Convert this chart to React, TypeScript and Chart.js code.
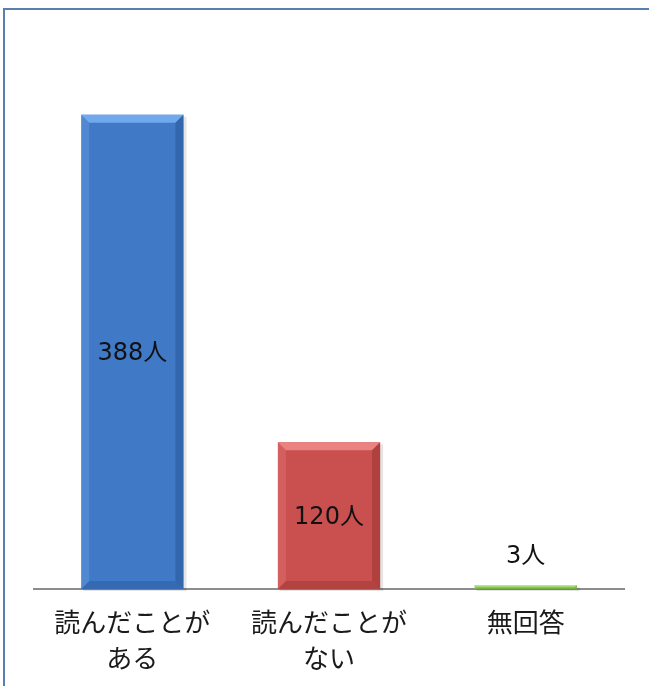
import React, { useEffect, useRef } from "react";
import { Chart, registerables } from "chart.js";

Chart.register(...registerables);

const categories: string[][] = [["読んだことが", "ある"], ["読んだことが", "ない"], ["無回答"]];
const counts: number[] = [388, 120, 3];
const unit = "人";
const barColors = ["#4079c6", "#c9504f", "#8fc95a"];
const lightColors = ["#76aef0", "#ec8786", "#c0ec94"];
const darkColors = ["#2a5a9c", "#9c3533", "#5f9a33"];

const FONT = "'Noto Sans CJK JP', 'Noto Sans', sans-serif";
const LABEL_FONT = "'DejaVu Sans', 'Noto Sans CJK JP', sans-serif";

const bevelPlugin = {
  id: "bevel",
  beforeDatasetsDraw(chart: any) {
    const ctx = chart.ctx;
    const meta = chart.getDatasetMeta(0);
    ctx.save();
    meta.data.forEach((bar: any) => {
      const { x, y, base, width } = bar.getProps(["x", "y", "base", "width"], true);
      const left = x - width / 2;
      ctx.fillStyle = "rgba(0,0,0,0.10)";
      ctx.fillRect(left + 2, y + 2, width + 1, base - y);
    });
    ctx.restore();
  },
  afterDatasetsDraw(chart: any) {
    const ctx = chart.ctx;
    const meta = chart.getDatasetMeta(0);
    ctx.save();
    meta.data.forEach((bar: any, i: number) => {
      const { x, y, base, width } = bar.getProps(["x", "y", "base", "width"], true);
      const left = x - width / 2;
      const right = x + width / 2;
      const top = Math.min(y, base);
      const bottom = Math.max(y, base);
      const h = bottom - top;
      const b = Math.min(8, h / 3);
      ctx.fillStyle = lightColors[i];
      ctx.globalAlpha = 0.9;
      ctx.beginPath();
      ctx.moveTo(left, top);
      ctx.lineTo(right, top);
      ctx.lineTo(right - b, top + b);
      ctx.lineTo(left + b, top + b);
      ctx.closePath();
      ctx.fill();
      ctx.fillStyle = darkColors[i];
      ctx.globalAlpha = 0.6;
      ctx.beginPath();
      ctx.moveTo(right, top);
      ctx.lineTo(right, bottom);
      ctx.lineTo(right - b, bottom - b);
      ctx.lineTo(right - b, top + b);
      ctx.closePath();
      ctx.fill();
      ctx.globalAlpha = 0.5;
      ctx.beginPath();
      ctx.moveTo(left, bottom);
      ctx.lineTo(right, bottom);
      ctx.lineTo(right - b, bottom - b);
      ctx.lineTo(left + b, bottom - b);
      ctx.closePath();
      ctx.fill();
      ctx.globalAlpha = 0.3;
      ctx.fillStyle = lightColors[i];
      ctx.beginPath();
      ctx.moveTo(left, top);
      ctx.lineTo(left + b, top + b);
      ctx.lineTo(left + b, bottom - b);
      ctx.lineTo(left, bottom);
      ctx.closePath();
      ctx.fill();
      ctx.globalAlpha = 1;
    });
    ctx.restore();
  },
};

const labelPlugin = {
  id: "valueLabels",
  afterDraw(chart: any) {
    const ctx = chart.ctx;
    const meta = chart.getDatasetMeta(0);
    const data = chart.data.datasets[0].data as number[];
    ctx.save();
    ctx.font = `24px ${LABEL_FONT}`;
    ctx.fillStyle = "#111";
    ctx.textAlign = "center";
    ctx.textBaseline = "middle";
    meta.data.forEach((bar: any, i: number) => {
      const { x, y, base } = bar.getProps(["x", "y", "base"], true);
      const h = base - y;
      const ty = h > 60 ? (y + base) / 2 + 2 : y - 29;
      ctx.fillText(`${data[i]}${unit}`, x, ty);
    });
    ctx.restore();
  },
};

export default function App() {
  const ref = useRef<HTMLCanvasElement | null>(null);
  useEffect(() => {
    if (!ref.current) return;
    const chart = new Chart(ref.current, {
      type: "bar",
      data: {
        labels: categories,
        datasets: [
          {
            data: counts,
            backgroundColor: barColors,
            borderWidth: 0,
            categoryPercentage: 1,
            barPercentage: 0.52,
          },
        ],
      },
      options: {
        animation: false,
        responsive: false,
        maintainAspectRatio: false,
        layout: { padding: { left: 34, right: 25, top: 100, bottom: 0 } },
        plugins: { legend: { display: false }, tooltip: { enabled: false } },
        scales: {
          x: {
            grid: { display: false, drawTicks: false },
            border: { display: true, color: "#8c8c8c", width: 2 },
            ticks: {
              padding: 16,
              color: "#1a1a1a",
              font: { family: FONT, size: 26, lineHeight: 1.35 },
              maxRotation: 0,
              autoSkip: false,
            },
            afterFit: (scale: any) => {
              scale.height = 97;
            },
          },
          y: { display: false, min: 0, max: 400 },
        },
      },
      plugins: [bevelPlugin, labelPlugin],
    });
    return () => chart.destroy();
  }, []);

  return (
    <div
      style={{
        position: "fixed",
        left: 0,
        top: 0,
        width: 649,
        height: 686,
        overflow: "hidden",
        background: "#fff",
      }}
    >
      <div
        style={{
          position: "absolute",
          left: 3,
          top: 8,
          width: 700,
          height: 720,
          borderTop: "2px solid #5a7eb0",
          borderLeft: "2px solid #5a7eb0",
        }}
      />
      <canvas ref={ref} width={649} height={686} style={{ position: "absolute", left: 0, top: 0 }} />
    </div>
  );
}
